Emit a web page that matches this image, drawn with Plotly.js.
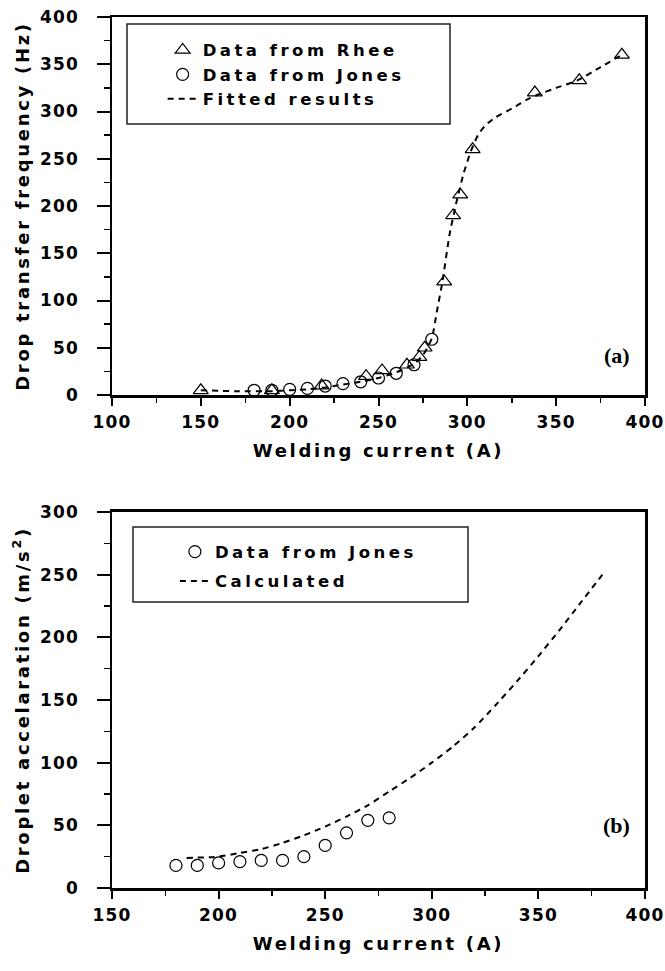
<!DOCTYPE html>
<html><head><meta charset="utf-8">
<script src="https://cdn.plot.ly/plotly-3.0.1.min.js"></script>
<style>
html,body{margin:0;padding:0;background:#fff}
#g{width:665px;height:971px}
.xtick text, .ytick text, .x2tick text, .y2tick text{letter-spacing:1.2px}
text.legendtext, text.legend2text{letter-spacing:3.5px}
text.xtitle, text.ytitle, text.x2title, text.y2title{letter-spacing:2.7px}
text.annotation-text{letter-spacing:0}
</style>
</head><body><div id="g"></div>
<script>
// (a) Drop transfer frequency
const rheeX = [150,190,218,243,252,266,273,276,287,292,296,303,338,363,387];
const rheeY = [5,5,10,20,26,32,40,50,120,190,212,260,320,333,360];
const jonesAX = [180,190,200,210,220,230,240,250,260,270,280];
const jonesAY = [5,5,6,7,9.5,12,14,18,23,32,59];
const fitX = [150,170,190,200,210,220,230,240,250,260,270,275,280,283,286,290,294,298,302,306,310,316,325,333,340,350,362,375,387];
const fitY = [5,4,4,5,6,8,11,14,18,24,33,42,60,90,120,170,205,235,258,275,285,294,303,312,318,325,333,347,360];
// (b) Droplet acceleration
const jonesBX = [180,190,200,210,220,230,240,250,260,270,280];
const jonesBY = [18,18,20,21,22,22,25,34,44,54,56];
const calcX = [185,200,210,220,230,240,250,260,270,280,290,300,310,320,330,340,350,360,370,380];
const calcY = [24,25,28,31,36,42,49,57,66,77,88,100,113,128,146,165,185,206,228,250];

const FAM = '"DejaVu Sans", "Liberation Sans", Arial, sans-serif';
const tickFont = {family:FAM, size:17, color:'#000', weight:'bold'};
const titleFont = {family:FAM, size:18, color:'#000', weight:'bold'};
const legFont = {family:FAM, size:16.5, color:'#000', weight:'bold'};
const dashLine = {color:'#000', width:2, dash:'6px,5px'};

const traces = [
  {x:rheeX, y:rheeY, type:'scatter', mode:'markers', name:'Data from Rhee', xaxis:'x', yaxis:'y', legend:'legend',
   marker:{symbol:'triangle-up-open', size:13, color:'#000', line:{width:1.2,color:'#000'}}},
  {x:jonesAX, y:jonesAY, type:'scatter', mode:'markers', name:'Data from Jones', xaxis:'x', yaxis:'y', legend:'legend',
   marker:{symbol:'circle-open', size:12, color:'#000', line:{width:1.2,color:'#000'}}},
  {x:fitX, y:fitY, type:'scatter', mode:'lines', name:'Fitted results', xaxis:'x', yaxis:'y', legend:'legend',
   line:Object.assign({shape:'spline', smoothing:0.6}, dashLine)},
  {x:jonesBX, y:jonesBY, type:'scatter', mode:'markers', name:'Data from Jones', xaxis:'x2', yaxis:'y2', legend:'legend2', legendgroup:'b1',
   marker:{symbol:'circle-open', size:12, color:'#000', line:{width:1.2,color:'#000'}}},
  {x:calcX, y:calcY, type:'scatter', mode:'lines', name:'Calculated', xaxis:'x2', yaxis:'y2', legend:'legend2', legendgroup:'b2',
   line:Object.assign({shape:'spline', smoothing:0.6}, dashLine)}
];

function xax(range, anchor){
  return {
    range:range, anchor:anchor, domain:[0,1], dtick:50, tick0:0,
    showline:true, linewidth:2.5, linecolor:'#000', mirror:true,
    ticks:'outside', ticklen:8, tickwidth:2, tickcolor:'#000', ticklabelstandoff:2,
    minor:{dtick:25, ticks:'outside', ticklen:5, tickwidth:1.5, tickcolor:'#000'},
    showgrid:false, zeroline:false, tickfont:tickFont,
    title:{text:'Welding current (A)', standoff:14, font:titleFont}
  };
}
function yax(range, anchor, domain, title){
  return {
    range:range, anchor:anchor, domain:domain, dtick:50, tick0:0,
    showline:true, linewidth:2.5, linecolor:'#000', mirror:true,
    ticks:'outside', ticklen:13, tickwidth:2, tickcolor:'#000', ticklabelstandoff:14,
    minor:{dtick:25, ticks:'outside', ticklen:6, tickwidth:1.5, tickcolor:'#000'},
    showgrid:false, zeroline:false, tickfont:tickFont,
    title:{text:title, standoff:6, font:titleFont}
  };
}

const layout = {
  width:665, height:971,
  margin:{l:112, r:20, t:17, b:83},
  paper_bgcolor:'#fff', plot_bgcolor:'#fff',
  showlegend:true,
  xaxis: xax([100,400], 'y'),
  yaxis: yax([0,400], 'x', [0.566,1], 'Drop transfer frequency (Hz)'),
  xaxis2: xax([150,400], 'y2'),
  yaxis2: yax([0,300], 'x2', [0,0.4317], 'Droplet accelaration (m/s<sup>2</sup>)'),
  legend:{x:0.095, y:0.982, xanchor:'left', yanchor:'top', bgcolor:'rgba(0,0,0,0)', borderwidth:0, font:legFont, tracegroupgap:0},
  legend2:{x:0.118, y:0.406, xanchor:'left', yanchor:'top', bgcolor:'rgba(0,0,0,0)', borderwidth:0, font:legFont, traceorder:'grouped', tracegroupgap:5},
  shapes:[
    {type:'rect', xref:'x domain', yref:'y domain', x0:(127-112)/533, x1:(450-112)/533, y0:(395-124)/378, y1:(395-24)/378, line:{color:'#222', width:1.5}},
    {type:'rect', xref:'x2 domain', yref:'y2 domain', x0:(133-112)/533, x1:(468-112)/533, y0:(888-602)/376, y1:(888-527)/376, line:{color:'#222', width:1.5}}
  ],
  annotations:[
    {text:'(a)', xref:'x domain', yref:'y domain', x:0.975, y:0.105, xanchor:'right', yanchor:'middle', showarrow:false,
     font:{family:'"Liberation Serif", "Times New Roman", serif', size:22, color:'#000', weight:'bold'}},
    {text:'(b)', xref:'x2 domain', yref:'y2 domain', x:0.975, y:0.165, xanchor:'right', yanchor:'middle', showarrow:false,
     font:{family:'"Liberation Serif", "Times New Roman", serif', size:22, color:'#000', weight:'bold'}}
  ]
};

Plotly.newPlot('g', traces, layout, {displayModeBar:false, staticPlot:true});
</script>
</body></html>
